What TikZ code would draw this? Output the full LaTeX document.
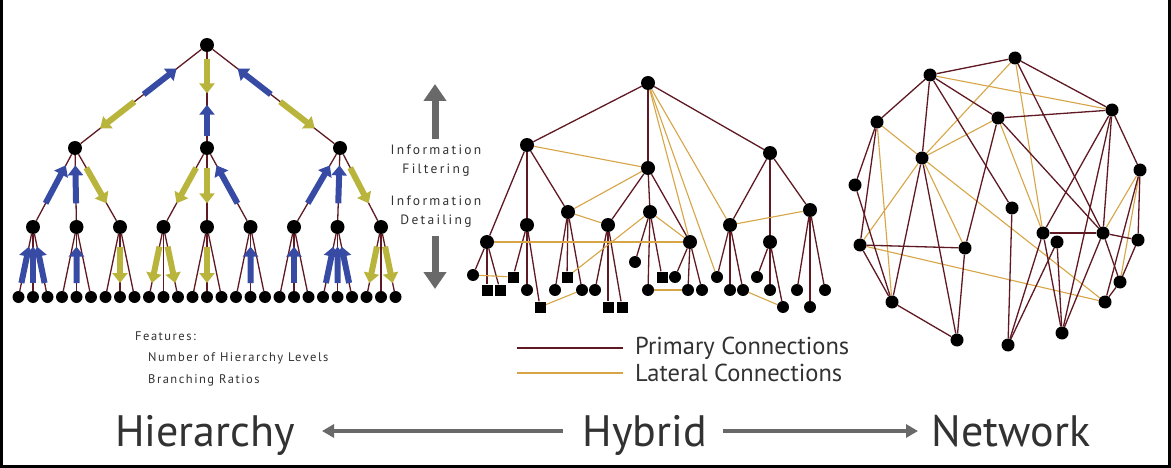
\documentclass[tikz,border=0pt]{standalone}
\usepackage{fontspec}
\setmainfont{PT Sans}
\newfontfamily\spaced[LetterSpace=12]{PT Sans}
\newfontfamily\spacedb[LetterSpace=17]{PT Sans}
\usetikzlibrary{arrows.meta,calc}
\pgfdeclarelayer{back}
\pgfdeclarelayer{bg}
\pgfsetlayers{back,bg,main}
\definecolor{prim}{RGB}{95,25,35}
\definecolor{lat}{RGB}{215,165,70}
\definecolor{blueA}{RGB}{55,75,165}
\definecolor{yelA}{RGB}{185,180,60}
\definecolor{garr}{RGB}{105,105,105}
\definecolor{txt}{RGB}{50,50,50}
\newcommand{\myarr}[5]{\draw[#1] ($(#2)!#4!(#3)$) -- ($(#2)!#5!(#3)$);}
\begin{document}
\begin{tikzpicture}[x=1pt,y=-1pt,
  hn/.style={circle,fill=black,inner sep=0pt,minimum size=14pt},
  lf/.style={circle,fill=black,inner sep=0pt,minimum size=12pt},
  sq/.style={rectangle,fill=black,inner sep=0pt,minimum size=11pt},
  nn/.style={circle,fill=black,inner sep=0pt,minimum size=13pt},
  pe/.style={draw=prim,line width=1.3pt},
  le/.style={draw=lat,line width=1.1pt},
  bluar/.style={draw=blueA,line width=6pt,-{Triangle[width=15pt,length=10pt]}},
  yelar/.style={draw=yelA,line width=6pt,-{Triangle[width=15pt,length=10pt]}},
  garrow/.style={draw=garr,line width=4pt,-{Triangle[width=13pt,length=12pt]}},
  varrow/.style={draw=garr,line width=7pt,-{Triangle[width=22pt,length=17pt]}},
  small/.style={font=\spacedb\fontsize{13.5}{19}\selectfont,text=txt,inner sep=0pt,align=center},
  feats/.style={font=\spaced\fontsize{12.5}{16}\selectfont,text=txt,inner sep=0pt,anchor=west},
  legs/.style={font=\fontsize{24.5}{26}\selectfont,text=txt,inner sep=0pt,anchor=west},
  big/.style={font=\fontsize{44}{50}\selectfont,text=txt,inner sep=0pt,anchor=base}
]
\useasboundingbox (0,0) rectangle (1171,468);
\begin{pgfonlayer}{back}
\fill[white] (0,0) rectangle (1171,468);
\end{pgfonlayer}
\draw[black,line width=3pt] (1.5,0) -- (1.5,466.5) -- (1169.5,466.5) -- (1169.5,0);

% ---------------- Hierarchy ----------------
\node[hn] (k0) at (207,45) {};
\node[hn] (k1) at (75,148) {};
\node[hn] (k2) at (207,148) {};
\node[hn] (k3) at (340,148) {};
\foreach \x [count=\i] in {33,76.5,120,163.5,207,250.5,294,337.5,381} {
  \node[hn] (kl\i) at (\x,227) {};
  \foreach \j in {1,2,3} \node[lf] (kf\i-\j) at ({\x+(\j-2)*14.5},297) {};
}
\begin{pgfonlayer}{bg}
\foreach \c in {1,2,3} \draw[pe] (k0) -- (k\c);
\foreach \p/\c in {1/1,1/2,1/3,2/4,2/5,2/6,3/7,3/8,3/9} \draw[pe] (k\p) -- (kl\c);
\foreach \i in {1,...,9} \foreach \j in {1,2,3} \draw[pe] (kl\i) -- (kf\i-\j);
% root edges
\myarr{bluar}{k0}{k1}{0.48}{0.23}
\myarr{yelar}{k0}{k1}{0.55}{0.81}
\myarr{yelar}{k0}{k2}{0.14}{0.47}
\myarr{bluar}{k0}{k2}{0.88}{0.58}
\myarr{bluar}{k0}{k3}{0.48}{0.23}
\myarr{yelar}{k0}{k3}{0.55}{0.81}
% level 2 edges
\foreach \p/\c in {1/1,1/2,2/6,3/7,3/8} {\myarr{bluar}{k\p}{kl\c}{0.70}{0.22}}
\foreach \p/\c in {1/3,2/4,2/5,3/9} {\myarr{yelar}{k\p}{kl\c}{0.25}{0.70}}
% leaf edges
\foreach \i/\j in {1/1,1/3,1/2,2/2,6/2,7/2,8/1,8/3,8/2} {\myarr{bluar}{kl\i}{kf\i-\j}{0.80}{0.28}}
\foreach \i/\j in {3/2,4/1,4/3,5/2,9/1,9/3} {\myarr{yelar}{kl\i}{kf\i-\j}{0.28}{0.80}}
\end{pgfonlayer}

% ---------------- Info arrows ----------------
\node[small] (inf1) at (436,161) {Information\\Filtering};
\node[small] (inf2) at (436,212) {Information\\Detailing};
\coordinate (ut) at (435,84);
\coordinate (dt) at (435,289);
\draw[varrow,shorten <=6pt] (ut |- inf1.north) -- (ut);
\draw[varrow,shorten <=8pt] (dt |- inf2.south) -- (dt);

% ---------------- Hybrid ----------------
\node[hn] (y0) at (648,83) {};
\node[hn] (ya) at (527,145) {};
\node[hn] (yb) at (648,168) {};
\node[hn] (yc) at (770,153) {};
\foreach \x/\y [count=\i] in {487/242,527/225,568/212,608/225,650/212,690/242,730/225,770/242,810/210}
  \node[hn] (yl\i) at (\x,\y) {};
\foreach \n/\x/\y/\s in {1-1/473/275/lf,1-2/487/290/sq,1-3/500/290/sq,
  2-1/513/277/sq,2-2/527/290/lf,2-3/540/307/sq,
  3-1/555/290/lf,3-2/567/277/sq,3-3/582/290/lf,
  4-1/595/290/lf,4-2/608/307/sq,4-3/622/307/sq,
  5-1/635/262/lf,5-2/648/290/lf,5-3/662/277/sq,
  6-1/675/277/lf,6-2/688/290/lf,6-3/702/290/lf,
  7-1/717/277/lf,7-2/730/290/lf,7-3/743/290/lf,
  8-1/757/277/lf,8-2/770/290/lf,8-3/783/307/lf,
  9-1/797/290/lf,9-2/810/307/lf,9-3/825/290/lf}
  \node[\s] (yf\n) at (\x,\y) {};
\begin{pgfonlayer}{bg}
\foreach \a/\b in {y0/ya,y0/yb,y0/yc,ya/yl1,ya/yl2,ya/yl3,yb/yl4,yb/yl5,yb/yl6,yc/yl7,yc/yl8,yc/yl9}
  \draw[pe] (\a) -- (\b);
\foreach \i in {1,...,9} \foreach \j in {1,2,3} \draw[pe] (yl\i) -- (yf\i-\j);
\foreach \a/\b in {ya/yb,y0/yl6,y0/yf7-1,y0/yl7,yb/yl3,yl3/yl4,yl1/yl6,yl7/yl9,yl5/yl6,
  yf1-1/yf2-1,yf2-3/yf3-3,yf5-2/yf6-2,yf7-3/yf8-3,yf3-2/yl5}
  \draw[le] (\a) -- (\b);
\end{pgfonlayer}

% ---------------- Network ----------------
\foreach \i/\x/\y in {1/930/75,2/1015/58,3/1112/110,4/877/122,5/998/118,6/922/158,
  7/1140/170,8/855/185,9/1012/208,10/860/245,11/965/248,12/1043/233,13/1057/242,
  14/1103/233,15/1138/240,16/1120/282,17/1105/302,18/892/302,19/957/340,20/1008/345,21/1062/333}
  \node[nn] (n\i) at (\x,\y) {};
\begin{pgfonlayer}{bg}
\foreach \a/\b in {6/17,10/17,1/3,2/6,2/12,4/6,4/18,6/5,6/10,6/11,5/12,7/14,7/16}
  \draw[le] (n\a) -- (n\b);
\foreach \a/\b in {1/2,1/4,1/6,1/5,1/9,5/14,2/3,2/14,3/5,3/7,3/12,3/14,3/21,7/15,7/17,
  4/8,4/10,6/18,6/19,5/11,8/18,10/11,10/18,11/19,18/19,9/20,12/14,12/20,12/21,13/21,13/20,
  14/15,14/16,15/16,16/17,14/21}
  \draw[pe] (n\a) -- (n\b);
\end{pgfonlayer}

% ---------------- Legend / features ----------------
\node[feats] (feat) at (135,336) {Features:};
\node[feats] (feat1) at (148,358) {Number of Hierarchy Levels};
\node[feats] (feat2) at (148,380) {Branching Ratios};

\node[legs] (legp) at (635,348) {Primary Connections};
\node[legs] (legl) at (635,373) {Lateral Connections};
\coordinate (pa) at (517,348);
\coordinate (la2) at (517,373);
\draw[pe] (pa) -- ([xshift=-12pt]legp.west);
\draw[le,line width=1.4pt] (la2) -- ([xshift=-12pt]legl.west);

% ---------------- Bottom axis ----------------
\node[big] (hier) at (205,446) {Hierarchy};
\node[big] (hyb) at (645,446) {Hybrid};
\node[big] (net) at (1011,446) {Network};
\coordinate (la) at (322,431);
\coordinate (ra) at (918,431);
\draw[garrow,shorten <=20pt] (la -| hyb.west) -- (la);
\draw[garrow,shorten <=16pt] (ra -| hyb.east) -- (ra);
\end{tikzpicture}
\end{document}
